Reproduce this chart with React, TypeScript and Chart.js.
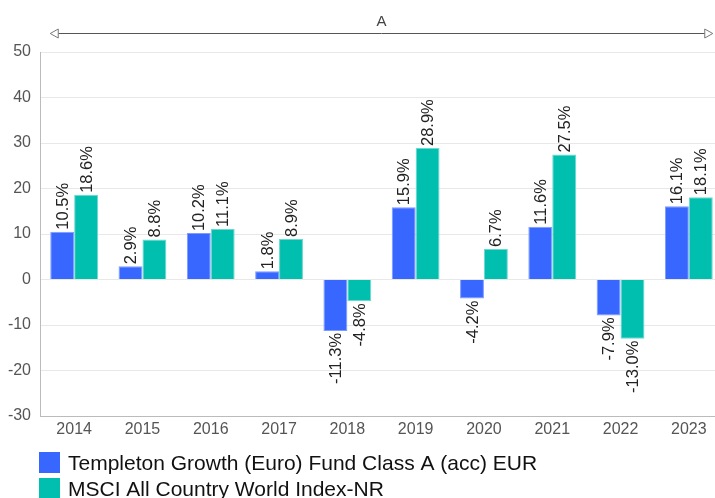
import React, { useEffect, useRef } from "react";
import { Chart, registerables } from "chart.js";

Chart.register(...registerables);

const categories = ["2014", "2015", "2016", "2017", "2018", "2019", "2020", "2021", "2022", "2023"];
const fundValues = [10.5, 2.9, 10.2, 1.8, -11.3, 15.9, -4.2, 11.6, -7.9, 16.1];
const indexValues = [18.6, 8.8, 11.1, 8.9, -4.8, 28.9, 6.7, 27.5, -13.0, 18.1];
const seriesNames = ["Templeton Growth (Euro) Fund Class A (acc) EUR", "MSCI All Country World Index-NR"];
const seriesColors = ["#3867ff", "#00bfae"];
const seriesBorders = ["#7d9bff", "#6ad9cf"];
const periodLabel = "A";
const yTicks = [50, 40, 30, 20, 10, 0, -10, -20, -30];

const FONT = "'Liberation Sans', Arial, sans-serif";

const valueLabelPlugin = {
  id: "valueLabels",
  afterDatasetsDraw(chart: any) {
    const ctx = chart.ctx;
    ctx.save();
    ctx.font = `16.5px ${FONT}`;
    ctx.fillStyle = "#222";
    ctx.textBaseline = "middle";
    chart.data.datasets.forEach((ds: any, di: number) => {
      const meta = chart.getDatasetMeta(di);
      meta.data.forEach((bar: any, i: number) => {
        const v = ds.data[i];
        const txt = v.toFixed(1) + "%";
        ctx.save();
        if (v >= 0) {
          ctx.translate(bar.x, bar.y - 2);
          ctx.rotate(-Math.PI / 2);
          ctx.textAlign = "left";
        } else {
          ctx.translate(bar.x, bar.y + 2);
          ctx.rotate(-Math.PI / 2);
          ctx.textAlign = "right";
        }
        ctx.fillText(txt, 0, 1);
        ctx.restore();
      });
    });
    ctx.restore();
  },
};

const arrowPlugin = {
  id: "periodArrow",
  afterDraw(chart: any) {
    const ctx = chart.ctx;
    const m0 = chart.getDatasetMeta(0).data[0];
    const m1 = chart.getDatasetMeta(1).data[categories.length - 1];
    if (!m0 || !m1) return;
    const x0 = m0.x - m0.width / 2;
    const x1 = m1.x + m1.width / 2;
    const y = 33;
    ctx.save();
    ctx.strokeStyle = "#555";
    ctx.lineWidth = 1;
    ctx.beginPath();
    ctx.moveTo(x0 + 8, y + 0.5);
    ctx.lineTo(x1 - 8, y + 0.5);
    ctx.stroke();
    ctx.fillStyle = "#fff";
    ctx.strokeStyle = "#777";
    ctx.beginPath();
    ctx.moveTo(x0, y + 0.5);
    ctx.lineTo(x0 + 8, y - 4);
    ctx.lineTo(x0 + 8, y + 5);
    ctx.closePath();
    ctx.fill();
    ctx.stroke();
    ctx.beginPath();
    ctx.moveTo(x1, y + 0.5);
    ctx.lineTo(x1 - 8, y - 4);
    ctx.lineTo(x1 - 8, y + 5);
    ctx.closePath();
    ctx.fill();
    ctx.stroke();
    ctx.fillStyle = "#444";
    ctx.font = `15px ${FONT}`;
    ctx.textAlign = "center";
    ctx.textBaseline = "middle";
    ctx.fillText(periodLabel, (x0 + x1) / 2, 22);
    ctx.restore();
  },
};

const legendPlugin = {
  id: "rowLegend",
  afterDraw(chart: any) {
    const ctx = chart.ctx;
    const left = chart.chartArea.left;
    ctx.save();
    ctx.font = `21px ${FONT}`;
    ctx.textBaseline = "middle";
    ctx.textAlign = "left";
    seriesNames.forEach((name, i) => {
      const cy = 463 + i * 26;
      ctx.fillStyle = seriesColors[i];
      ctx.fillRect(left - 1, cy - 11, 21, 21);
      ctx.fillStyle = "#111";
      ctx.fillText(name, left + 28, cy + 1);
    });
    ctx.restore();
  },
};

export default function App() {
  const ref = useRef<HTMLCanvasElement | null>(null);
  useEffect(() => {
    if (!ref.current) return;
    const chart = new Chart(ref.current, {
      type: "bar",
      data: {
        labels: categories,
        datasets: [
          {
            label: seriesNames[0],
            data: fundValues,
            backgroundColor: seriesColors[0],
            borderColor: seriesBorders[0],
            borderWidth: 1,
            categoryPercentage: 0.7,
            barPercentage: 1,
          },
          {
            label: seriesNames[1],
            data: indexValues,
            backgroundColor: seriesColors[1],
            borderColor: seriesBorders[1],
            borderWidth: 1,
            categoryPercentage: 0.7,
            barPercentage: 1,
          },
        ],
      },
      options: {
        responsive: false,
        animation: false,
        layout: { padding: { top: 52, right: 8, left: 0, bottom: 0 } },
        plugins: {
          legend: { display: false },
          tooltip: { enabled: false },
        },
        scales: {
          x: {
            grid: { display: false, drawTicks: false },
            border: { color: "#bbb" },
            ticks: { color: "#555", font: { size: 16, family: FONT }, padding: 4, maxRotation: 0 },
            afterFit(scale: any) {
              scale.height = 82;
            },
          },
          y: {
            min: -30,
            max: 50,
            afterBuildTicks(scale: any) {
              scale.ticks = yTicks.map((v) => ({ value: v }));
            },
            grid: { color: "#e8e8e8", drawTicks: false },
            border: { color: "#bbb" },
            ticks: { color: "#555", font: { size: 16, family: FONT }, padding: 9 },
            afterFit(scale: any) {
              scale.width = 40;
            },
          },
        },
      },
      plugins: [valueLabelPlugin, arrowPlugin, legendPlugin],
    });
    return () => chart.destroy();
  }, []);
  return (
    <div style={{ position: "fixed", left: 0, top: 0, width: 715, height: 498, overflow: "hidden", background: "#fff" }}>
      <canvas ref={ref} width={731} height={498} style={{ position: "absolute", left: 0, top: 0 }} />
    </div>
  );
}
